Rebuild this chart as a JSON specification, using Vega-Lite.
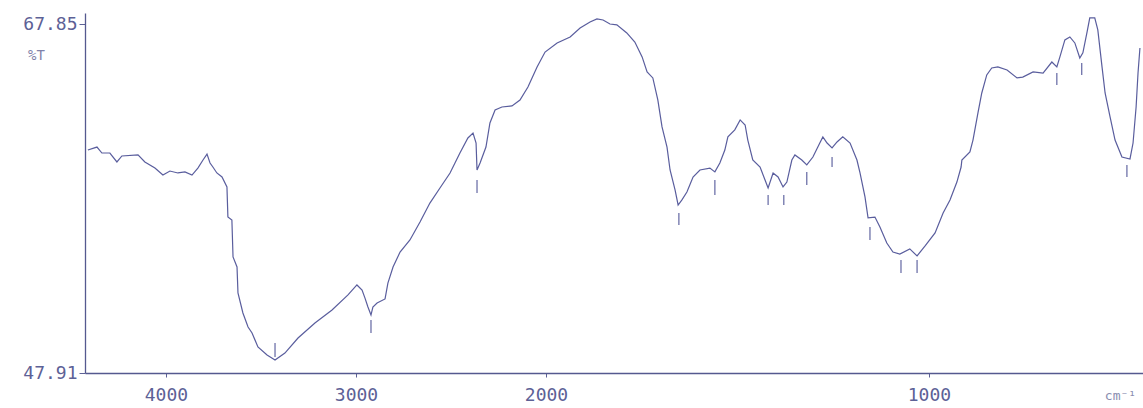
{
  "$schema": "https://vega.github.io/schema/vega-lite/v6.json",
  "width": 1058,
  "height": 360,
  "autosize": {"type": "none"},
  "padding": {"left": 85, "top": 13, "right": 0, "bottom": 35},
  "background": "white",
  "config": {
    "view": {"stroke": null},
    "axis": {"labelFont": "DejaVu Sans Mono", "titleFont": "DejaVu Sans Mono", "grid": false}
  },
  "datasets": {
    "spectrum": [
      {"wn":4411,"T":60.65},{"wn":4363,"T":60.82},{"wn":4337,"T":60.48},{"wn":4295,"T":60.48},{"wn":4258,"T":59.97},
      {"wn":4232,"T":60.31},{"wn":4147,"T":60.37},{"wn":4111,"T":59.97},{"wn":4058,"T":59.62},{"wn":4016,"T":59.22},
      {"wn":3979,"T":59.45},{"wn":3937,"T":59.34},{"wn":3900,"T":59.40},{"wn":3863,"T":59.22},{"wn":3832,"T":59.62},
      {"wn":3805,"T":60.08},{"wn":3784,"T":60.42},{"wn":3768,"T":59.91},{"wn":3753,"T":59.68},{"wn":3732,"T":59.34},
      {"wn":3705,"T":59.11},{"wn":3679,"T":58.54},{"wn":3674,"T":56.82},{"wn":3653,"T":56.65},{"wn":3647,"T":54.54},
      {"wn":3626,"T":53.97},{"wn":3621,"T":52.48},{"wn":3595,"T":51.34},{"wn":3568,"T":50.54},{"wn":3547,"T":50.20},
      {"wn":3516,"T":49.40},{"wn":3468,"T":48.94},{"wn":3426,"T":48.65},{"wn":3374,"T":49.05},{"wn":3305,"T":49.91},
      {"wn":3216,"T":50.77},{"wn":3126,"T":51.51},{"wn":3042,"T":52.37},{"wn":2995,"T":52.94},{"wn":2968,"T":52.65},
      {"wn":2953,"T":52.20},{"wn":2937,"T":51.68},{"wn":2921,"T":51.22},{"wn":2911,"T":51.68},{"wn":2889,"T":51.91},
      {"wn":2847,"T":52.14},{"wn":2832,"T":53.05},{"wn":2805,"T":53.97},{"wn":2768,"T":54.82},{"wn":2716,"T":55.51},
      {"wn":2663,"T":56.54},{"wn":2611,"T":57.62},{"wn":2558,"T":58.48},{"wn":2505,"T":59.34},{"wn":2453,"T":60.48},
      {"wn":2411,"T":61.34},{"wn":2384,"T":61.62},{"wn":2368,"T":61.05},{"wn":2363,"T":59.51},{"wn":2347,"T":59.91},
      {"wn":2316,"T":60.82},{"wn":2295,"T":62.20},{"wn":2268,"T":62.94},{"wn":2232,"T":63.11},{"wn":2179,"T":63.17},
      {"wn":2137,"T":63.51},{"wn":2095,"T":64.25},{"wn":2047,"T":65.40},{"wn":2005,"T":66.25},{"wn":1971,"T":66.77},
      {"wn":1937,"T":67.11},{"wn":1911,"T":67.62},{"wn":1885,"T":67.97},{"wn":1867,"T":68.14},{"wn":1851,"T":68.08},
      {"wn":1833,"T":67.85},{"wn":1815,"T":67.80},{"wn":1789,"T":67.34},{"wn":1768,"T":66.82},{"wn":1749,"T":65.97},
      {"wn":1736,"T":65.11},{"wn":1721,"T":64.77},{"wn":1708,"T":63.51},{"wn":1697,"T":61.97},{"wn":1684,"T":60.82},
      {"wn":1676,"T":59.51},{"wn":1663,"T":58.37},{"wn":1655,"T":57.51},{"wn":1645,"T":57.80},{"wn":1632,"T":58.25},
      {"wn":1616,"T":59.11},{"wn":1598,"T":59.51},{"wn":1572,"T":59.62},{"wn":1559,"T":59.40},{"wn":1546,"T":59.91},
      {"wn":1533,"T":60.65},{"wn":1525,"T":61.40},{"wn":1507,"T":61.80},{"wn":1493,"T":62.37},{"wn":1480,"T":62.08},
      {"wn":1473,"T":61.22},{"wn":1460,"T":60.08},{"wn":1441,"T":59.68},{"wn":1428,"T":58.94},{"wn":1420,"T":58.48},
      {"wn":1407,"T":59.34},{"wn":1394,"T":59.11},{"wn":1381,"T":58.54},{"wn":1371,"T":58.82},{"wn":1358,"T":60.08},
      {"wn":1350,"T":60.37},{"wn":1332,"T":60.08},{"wn":1319,"T":59.80},{"wn":1303,"T":60.25},{"wn":1285,"T":61.05},
      {"wn":1277,"T":61.40},{"wn":1266,"T":61.05},{"wn":1253,"T":60.77},{"wn":1240,"T":61.11},{"wn":1225,"T":61.40},
      {"wn":1206,"T":61.05},{"wn":1188,"T":60.08},{"wn":1180,"T":59.34},{"wn":1167,"T":57.97},{"wn":1159,"T":56.77},
      {"wn":1141,"T":56.82},{"wn":1128,"T":56.25},{"wn":1110,"T":55.34},{"wn":1094,"T":54.82},{"wn":1076,"T":54.71},
      {"wn":1050,"T":55.00},{"wn":1031,"T":54.60},{"wn":1010,"T":55.17},{"wn":984,"T":55.91},{"wn":963,"T":57.05},
      {"wn":945,"T":57.80},{"wn":927,"T":58.82},{"wn":916,"T":59.68},{"wn":914,"T":60.08},{"wn":893,"T":60.54},
      {"wn":885,"T":61.22},{"wn":872,"T":62.77},{"wn":862,"T":63.91},{"wn":849,"T":64.94},{"wn":836,"T":65.34},
      {"wn":820,"T":65.40},{"wn":796,"T":65.22},{"wn":770,"T":64.77},{"wn":755,"T":64.82},{"wn":728,"T":65.11},
      {"wn":702,"T":65.05},{"wn":679,"T":65.68},{"wn":666,"T":65.40},{"wn":658,"T":65.97},{"wn":645,"T":66.94},
      {"wn":632,"T":67.11},{"wn":619,"T":66.77},{"wn":606,"T":65.91},{"wn":598,"T":66.20},{"wn":587,"T":67.40},
      {"wn":580,"T":68.20},{"wn":567,"T":68.20},{"wn":559,"T":67.51},{"wn":548,"T":65.40},{"wn":540,"T":63.91},
      {"wn":527,"T":62.54},{"wn":514,"T":61.22},{"wn":496,"T":60.25},{"wn":475,"T":60.14},{"wn":467,"T":61.05},
      {"wn":459,"T":63.11},{"wn":454,"T":65.05},{"wn":449,"T":66.48}
    ],
    "peaks": [
      {"wn":3426,"T":49.62,"T2":48.83},
      {"wn":2921,"T":50.94,"T2":50.20},
      {"wn":2363,"T":58.94,"T2":58.20},
      {"wn":1653,"T":57.05,"T2":56.37},
      {"wn":1559,"T":58.94,"T2":58.08},
      {"wn":1420,"T":58.08,"T2":57.51},
      {"wn":1379,"T":58.08,"T2":57.51},
      {"wn":1319,"T":59.40,"T2":58.65},
      {"wn":1253,"T":60.25,"T2":59.68},
      {"wn":1154,"T":56.25,"T2":55.51},
      {"wn":1073,"T":54.37,"T2":53.62},
      {"wn":1031,"T":54.37,"T2":53.62},
      {"wn":666,"T":65.05,"T2":64.37},
      {"wn":601,"T":65.62,"T2":64.94},
      {"wn":483,"T":59.80,"T2":59.11}
    ]
  },
  "encoding": {
    "x": {
      "field": "wn",
      "type": "quantitative",
      "scale": {"type": "linear", "domain": [4426, 2000, 441], "range": [0, 461, 1058], "nice": false, "zero": false},
      "axis": {
        "values": [4000, 3000, 2000, 1000],
        "format": "d",
        "title": "cm⁻¹",
        "titleAngle": 0,
        "titleX": 1035,
        "titleY": 22,
        "titleAlign": "center",
        "titleBaseline": "middle",
        "titleFontSize": 13,
        "titleFontWeight": "normal",
        "titleColor": "#8a8db0",
        "labelFontSize": 18,
        "labelColor": "#5d6196",
        "labelPadding": 9,
        "tickSize": 4,
        "tickColor": "#5d6196",
        "domainColor": "#55598f",
        "domainWidth": 1.3
      }
    },
    "y": {
      "field": "T",
      "type": "quantitative",
      "scale": {"domain": [47.91, 68.48], "nice": false, "zero": false},
      "axis": {
        "values": [47.91, 67.85],
        "format": ".2f",
        "title": "%T",
        "titleAngle": 0,
        "titleX": -49,
        "titleY": 42,
        "titleAlign": "center",
        "titleBaseline": "middle",
        "titleFontSize": 14,
        "titleFontWeight": "normal",
        "titleColor": "#7f82aa",
        "labelFontSize": 18,
        "labelColor": "#5d6196",
        "labelPadding": 2,
        "tickSize": 6,
        "tickColor": "#5d6196",
        "domainColor": "#55598f",
        "domainWidth": 1.3
      }
    }
  },
  "layer": [
    {
      "data": {"name": "spectrum"},
      "mark": {"type": "line", "color": "#474b92", "strokeWidth": 1.2, "opacity": 0.9},
      "encoding": {}
    },
    {
      "data": {"name": "peaks"},
      "mark": {"type": "rule", "color": "#474b92", "strokeWidth": 1.2, "opacity": 0.85},
      "encoding": {"y2": {"field": "T2"}}
    }
  ]
}
